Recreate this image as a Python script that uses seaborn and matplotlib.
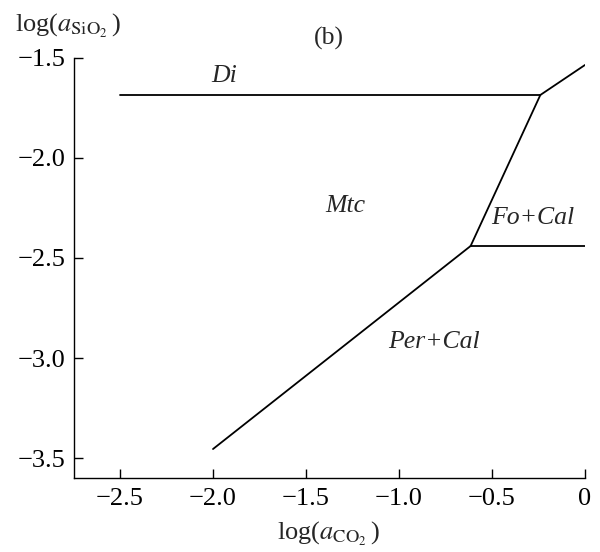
import matplotlib
matplotlib.use("Agg")
import matplotlib.pyplot as plt
import seaborn as sns
import pandas as pd

# boundary segments (x = log aCO2, y = log aSiO2)
seg_names = ["Di|Mtc", "Di|Fo", "Mtc|Fo", "Fo|Per", "Mtc|Per"]
seg_x0 = [-2.5, -0.24, -0.615, -0.615, -2.0]
seg_y0 = [-1.685, -1.685, -2.44, -2.44, -3.455]
seg_x1 = [-0.24, 0.0, -0.24, 0.0, -0.615]
seg_y1 = [-1.685, -1.535, -1.685, -2.44, -2.44]

field_labels = ["Di", "Mtc", "Fo+Cal", "Per+Cal"]
field_x = [-1.94, -1.29, -0.28, -0.81]
field_y = [-1.59, -2.24, -2.30, -2.92]

xticks = [-2.5, -2.0, -1.5, -1.0, -0.5, 0]
xticklabels = ["\u22122.5", "\u22122.0", "\u22121.5", "\u22121.0", "\u22120.5", "0"]
yticks = [-1.5, -2.0, -2.5, -3.0, -3.5]
yticklabels = ["\u22121.5", "\u22122.0", "\u22122.5", "\u22123.0", "\u22123.5"]

rows = []
for n, x0, y0, x1, y1 in zip(seg_names, seg_x0, seg_y0, seg_x1, seg_y1):
    rows.append({"seg": n, "x": x0, "y": y0})
    rows.append({"seg": n, "x": x1, "y": y1})
df = pd.DataFrame(rows)

sns.set_style("ticks")
plt.rcParams["font.family"] = ["Liberation Serif", "DejaVu Serif"]
plt.rcParams["mathtext.fontset"] = "stix"

fig = plt.figure(figsize=(6, 5.52), dpi=100)
ax = fig.add_axes([0.1225, 0.134, 0.8525, 0.761])

for n in seg_names:
    d = df[df.seg == n]
    sns.lineplot(data=d, x="x", y="y", sort=False, color="black", linewidth=1.3,
                 ax=ax, estimator=None)

for lab, x, y in zip(field_labels, field_x, field_y):
    ax.text(x, y, lab, fontsize=18.5, fontstyle="italic", ha="center", va="center")

ax.text(-1.375, -1.40, "(b)", fontsize=18.5, ha="center", va="center", clip_on=False)

ax.set_xlim(-2.75, 0)
ax.set_ylim(-3.6, -1.5)
ax.set_xticks(xticks)
ax.set_xticklabels(xticklabels)
ax.set_yticks(yticks)
ax.set_yticklabels(yticklabels)
ax.tick_params(direction="in", length=6.5, width=1, labelsize=19, colors="black")
ax.tick_params(axis="y", pad=6)
ax.tick_params(axis="x", pad=7)
for s in ["top", "right"]:
    ax.spines[s].set_visible(False)
for s in ["left", "bottom"]:
    ax.spines[s].set_linewidth(1.0)
    ax.spines[s].set_color("black")

ax.set_xlabel("")
ax.set_ylabel("")
fig.text(0.462, 0.022, r"log($a_{\mathrm{CO}_2}\,$)", fontsize=19, ha="left", va="baseline")
fig.text(0.025, 0.942, r"log($a_{\mathrm{SiO}_2}\,$)", fontsize=19, ha="left", va="baseline")

fig.savefig("out.png", dpi=100)
